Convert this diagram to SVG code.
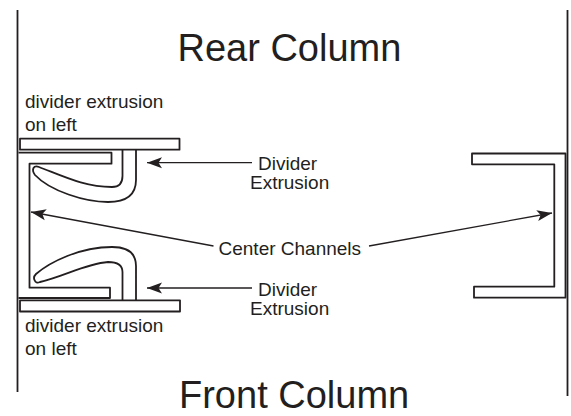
<svg xmlns="http://www.w3.org/2000/svg" width="571" height="416" viewBox="0 0 571 416">
<style>
text{font-family:"Liberation Sans",Arial,sans-serif;fill:#231f20}
.t{font-size:38px}.l{font-size:19px}
.s{fill:none;stroke:#231f20;stroke-width:1.8;stroke-linejoin:round}
.c{fill:none;stroke:#231f20;stroke-width:1.3}
.v{stroke:#231f20;stroke-width:1.8;fill:none}
</style>
<defs><marker id="a" markerUnits="userSpaceOnUse" markerWidth="16" markerHeight="12" refX="15" refY="6" orient="auto"><path d="M15 6L0 0.500L3.500 6L0 11.500Z" fill="#231f20"/></marker></defs>
<g id="columns"><path class="v" d="M17.500 10V392M567.500 10V396"/></g>
<g id="left-channel">
<rect class="s" x="20" y="138.700" width="159.500" height="11"/>
<path class="s" d="M18.500 152.700H111.500V163.700H29.500V287.700H110V298H18.500"/>
<path class="s" d="M122.500 150V176Q122.500 187 112 187C85 187 65 177 39 167Q35 165.500 33.500 168Q32 171 35 175C50 191 85 202 108 202Q136 202 136 180V150"/>
<path class="s" d="M122.500 300V272Q122.500 262 108 262C85 264 65 276 40 282Q36 284 34.500 280Q33 277 36 274C50 262 80 247 112 247Q136 247 136 266V300"/>
<rect class="s" x="20" y="300.300" width="160" height="11.200"/>
</g>
<g id="right-channel"><path class="s" d="M565.500 153.500H472V164.300H554.300V286.700H474V297.700H565.500Z"/></g>
<g id="connectors">
<path class="c" d="M252 162.700H147" marker-end="url(#a)"/>
<path class="c" d="M252 288H147" marker-end="url(#a)"/>
<path class="c" d="M213.500 246L31 212" marker-end="url(#a)"/>
<path class="c" d="M369 246L552 213" marker-end="url(#a)"/>
</g>
<g id="labels">
<text class="t" x="177.500" y="61">Rear Column</text>
<text class="t" x="179" y="407.500">Front Column</text>
<text class="l" x="25" y="108">divider extrusion</text>
<text class="l" x="25" y="131">on left</text>
<text class="l" x="25" y="332.300">divider extrusion</text>
<text class="l" x="25" y="355">on left</text>
<text class="l" x="258" y="170">Divider</text>
<text class="l" x="250" y="189.300">Extrusion</text>
<text class="l" x="258" y="296">Divider</text>
<text class="l" x="250" y="315">Extrusion</text>
<text class="l" x="218.500" y="255">Center Channels</text>
</g>
</svg>
